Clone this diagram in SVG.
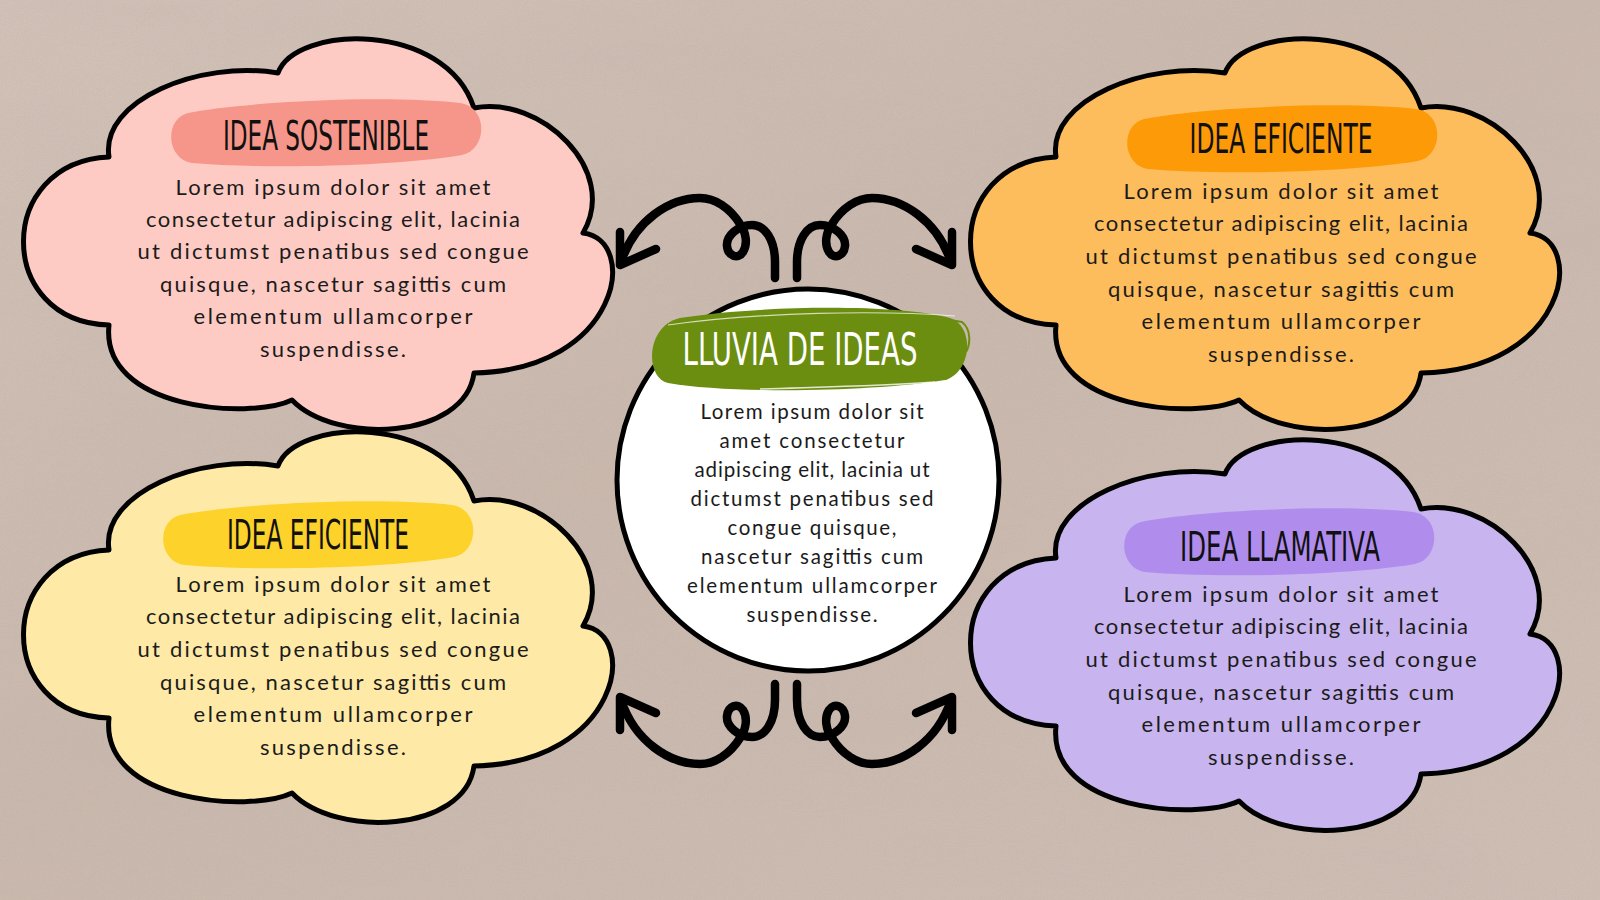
<svg xmlns="http://www.w3.org/2000/svg" width="1600" height="900" viewBox="0 0 1600 900">
  <defs>
    <style>
      .cloud { stroke: #000; stroke-width: 5; stroke-linejoin: round; }
      .title { font-family: "Liberation Sans Narrow", "DejaVu Sans Condensed", "Roboto Condensed", sans-serif; font-size: 40px; fill: #111; text-anchor: middle; }
      .body { font-family: "Lato", "DejaVu Sans", sans-serif; font-size: 22px; fill: #1b1b1b; text-anchor: middle; }
      .cbody { font-family: "Lato", "DejaVu Sans", sans-serif; font-size: 20.5px; fill: #1b1b1b; text-anchor: middle; }
      .arrow { fill: none; stroke: #000; stroke-width: 8.5; stroke-linecap: round; stroke-linejoin: round; }
    </style>
    <linearGradient id="bg" x1="0" y1="0" x2="1" y2="1">
      <stop offset="0" stop-color="#d2c2b8"/>
      <stop offset="0.45" stop-color="#cab8ad"/>
      <stop offset="1" stop-color="#cfbeb4"/>
    </linearGradient>
    <filter id="mottle" x="0" y="0" width="100%" height="100%">
      <feTurbulence type="fractalNoise" baseFrequency="0.003 0.010" numOctaves="3" seed="7"/>
      <feColorMatrix type="matrix" values="0 0 0 0 0.55  0 0 0 0 0.47  0 0 0 0 0.42  1.4 0 0 0 -0.62"/>
    </filter>
    <filter id="grain" x="0" y="0" width="100%" height="100%">
      <feTurbulence type="fractalNoise" baseFrequency="0.9" numOctaves="2" seed="3"/>
      <feColorMatrix type="matrix" values="0 0 0 0 0.45  0 0 0 0 0.38  0 0 0 0 0.35  1.0 0 0 0 -0.38"/>
    </filter>
    <path id="cloud" d="M 109 157 C 100 100, 200 60, 278 73 C 295 25, 445 20, 474 108 C 540 95, 620 170, 583 233 C 640 240, 620 370, 474 373 C 465 440, 335 445, 292 400 C 250 420, 100 410, 109 325 C -5 322, -5 162, 109 157 Z"/>
    <path id="badge" d="M 18 16 C 80 4, 220 -2, 290 6 C 318 10, 318 52, 292 58 C 220 70, 90 72, 22 66 C -4 62, -6 22, 18 16 Z"/>
  </defs>

  <!-- background -->
  <rect x="0" y="0" width="1600" height="900" fill="url(#bg)"/>
  <rect x="0" y="0" width="1600" height="900" filter="url(#mottle)" opacity="0.5"/>
  <rect x="0" y="0" width="1600" height="900" filter="url(#grain)" opacity="0.45"/>

  <!-- connectors -->
  <g id="connectors">
    <g id="arrow-top-left">
      <path class="arrow" d="M 775 278 L 775 262 C 775 240, 765 225, 752 225 C 738 225, 726 236, 727 246 C 728 256, 738 260, 743 252 C 748 244, 746 232, 740 224 C 730 208, 715 198, 700 198 C 670 198, 635 220, 621 262"/>
      <path class="arrow" d="M 620 232 L 620 265 L 656 249"/>
    </g>
    <g id="arrow-top-right" transform="translate(1572,0) scale(-1,1)">
      <path class="arrow" d="M 775 278 L 775 262 C 775 240, 765 225, 752 225 C 738 225, 726 236, 727 246 C 728 256, 738 260, 743 252 C 748 244, 746 232, 740 224 C 730 208, 715 198, 700 198 C 670 198, 635 220, 621 262"/>
      <path class="arrow" d="M 620 232 L 620 265 L 656 249"/>
    </g>
    <g id="arrow-bottom-left" transform="translate(0,962) scale(1,-1)">
      <path class="arrow" d="M 775 278 L 775 262 C 775 240, 765 225, 752 225 C 738 225, 726 236, 727 246 C 728 256, 738 260, 743 252 C 748 244, 746 232, 740 224 C 730 208, 715 198, 700 198 C 670 198, 635 220, 621 262"/>
      <path class="arrow" d="M 620 232 L 620 265 L 656 249"/>
    </g>
    <g id="arrow-bottom-right" transform="translate(1572,962) scale(-1,-1)">
      <path class="arrow" d="M 775 278 L 775 262 C 775 240, 765 225, 752 225 C 738 225, 726 236, 727 246 C 728 256, 738 260, 743 252 C 748 244, 746 232, 740 224 C 730 208, 715 198, 700 198 C 670 198, 635 220, 621 262"/>
      <path class="arrow" d="M 620 232 L 620 265 L 656 249"/>
    </g>
  </g>

  <!-- pink cloud -->
  <g id="node-idea-sostenible">
    <use href="#cloud" class="cloud" fill="#fecbc4"/>
    <use href="#badge" transform="translate(170,97)" fill="#f6968a"/>
    <text class="title" x="326" y="150" textLength="206" lengthAdjust="spacingAndGlyphs">IDEA SOSTENIBLE</text>
    <text class="body" x="333" y="195" textLength="315" lengthAdjust="spacing">Lorem ipsum dolor sit amet</text>
    <text class="body" x="333" y="227" textLength="374" lengthAdjust="spacing">consectetur adipiscing elit, lacinia</text>
    <text class="body" x="333" y="259" textLength="391" lengthAdjust="spacing">ut dictumst penatibus sed congue</text>
    <text class="body" x="333" y="292" textLength="346" lengthAdjust="spacing">quisque, nascetur sagittis cum</text>
    <text class="body" x="333" y="324" textLength="279" lengthAdjust="spacing">elementum ullamcorper</text>
    <text class="body" x="333" y="357" textLength="146" lengthAdjust="spacing">suspendisse.</text>
  </g>

  <!-- orange cloud -->
  <g id="node-idea-eficiente-top">
    <use href="#cloud" class="cloud" fill="#febd5c" transform="translate(947,0)"/>
    <use href="#badge" transform="translate(1126,103)" fill="#fd9a08"/>
    <text class="title" x="1281" y="153" textLength="183" lengthAdjust="spacingAndGlyphs">IDEA EFICIENTE</text>
    <text class="body" x="1281" y="199" textLength="315" lengthAdjust="spacing">Lorem ipsum dolor sit amet</text>
    <text class="body" x="1281" y="231" textLength="374" lengthAdjust="spacing">consectetur adipiscing elit, lacinia</text>
    <text class="body" x="1281" y="264" textLength="391" lengthAdjust="spacing">ut dictumst penatibus sed congue</text>
    <text class="body" x="1281" y="297" textLength="346" lengthAdjust="spacing">quisque, nascetur sagittis cum</text>
    <text class="body" x="1281" y="329" textLength="279" lengthAdjust="spacing">elementum ullamcorper</text>
    <text class="body" x="1281" y="362" textLength="146" lengthAdjust="spacing">suspendisse.</text>
  </g>

  <!-- yellow cloud -->
  <g id="node-idea-eficiente-bottom">
    <use href="#cloud" class="cloud" fill="#feeaa6" transform="translate(0,393)"/>
    <use href="#badge" transform="translate(162,499)" fill="#fdd22b"/>
    <text class="title" x="318" y="549" textLength="182" lengthAdjust="spacingAndGlyphs">IDEA EFICIENTE</text>
    <text class="body" x="333" y="592" textLength="315" lengthAdjust="spacing">Lorem ipsum dolor sit amet</text>
    <text class="body" x="333" y="624" textLength="374" lengthAdjust="spacing">consectetur adipiscing elit, lacinia</text>
    <text class="body" x="333" y="657" textLength="391" lengthAdjust="spacing">ut dictumst penatibus sed congue</text>
    <text class="body" x="333" y="690" textLength="346" lengthAdjust="spacing">quisque, nascetur sagittis cum</text>
    <text class="body" x="333" y="722" textLength="279" lengthAdjust="spacing">elementum ullamcorper</text>
    <text class="body" x="333" y="755" textLength="146" lengthAdjust="spacing">suspendisse.</text>
  </g>

  <!-- purple cloud -->
  <g id="node-idea-llamativa">
    <use href="#cloud" class="cloud" fill="#c8b4ee" transform="translate(947,401)"/>
    <use href="#badge" transform="translate(1123,506)" fill="#b08ded"/>
    <text class="title" x="1280" y="561" textLength="200" lengthAdjust="spacingAndGlyphs">IDEA LLAMATIVA</text>
    <text class="body" x="1281" y="602" textLength="315" lengthAdjust="spacing">Lorem ipsum dolor sit amet</text>
    <text class="body" x="1281" y="634" textLength="374" lengthAdjust="spacing">consectetur adipiscing elit, lacinia</text>
    <text class="body" x="1281" y="667" textLength="391" lengthAdjust="spacing">ut dictumst penatibus sed congue</text>
    <text class="body" x="1281" y="700" textLength="346" lengthAdjust="spacing">quisque, nascetur sagittis cum</text>
    <text class="body" x="1281" y="732" textLength="279" lengthAdjust="spacing">elementum ullamcorper</text>
    <text class="body" x="1281" y="765" textLength="146" lengthAdjust="spacing">suspendisse.</text>
  </g>

  <!-- center circle -->
  <g id="node-lluvia-de-ideas">
    <circle cx="808" cy="480" r="191" fill="#ffffff" stroke="#000" stroke-width="5"/>
    <path d="M 680 318 C 760 305, 900 304, 950 318 C 975 326, 972 372, 945 380 C 870 392, 730 394, 668 383 C 645 378, 645 326, 680 318 Z" fill="#6b8e10"/>
    <path d="M 662 332 C 690 310, 850 300, 962 322 C 972 330, 970 345, 966 352" fill="none" stroke="#6b8e10" stroke-width="2"/>
    <path d="M 668 325 C 760 312, 880 310, 955 316" fill="none" stroke="#ffffff" stroke-width="1.2" opacity="0.7"/>
    <path d="M 760 389 C 820 387, 880 386, 935 382" fill="none" stroke="#ffffff" stroke-width="1.5" opacity="0.8"/>
    <text class="title" x="800" y="365" style="font-size:44px; fill:#ffffff" textLength="235" lengthAdjust="spacingAndGlyphs">LLUVIA DE IDEAS</text>
    <text class="cbody" x="812" y="419" textLength="223" lengthAdjust="spacing">Lorem ipsum dolor sit</text>
    <text class="cbody" x="812" y="448" textLength="185" lengthAdjust="spacing">amet consectetur</text>
    <text class="cbody" x="812" y="477" textLength="235" lengthAdjust="spacing">adipiscing elit, lacinia ut</text>
    <text class="cbody" x="812" y="506" textLength="243" lengthAdjust="spacing">dictumst penatibus sed</text>
    <text class="cbody" x="812" y="535" textLength="169" lengthAdjust="spacing">congue quisque,</text>
    <text class="cbody" x="812" y="564" textLength="222" lengthAdjust="spacing">nascetur sagittis cum</text>
    <text class="cbody" x="812" y="593" textLength="250" lengthAdjust="spacing">elementum ullamcorper</text>
    <text class="cbody" x="812" y="622" textLength="131" lengthAdjust="spacing">suspendisse.</text>
  </g>
</svg>
